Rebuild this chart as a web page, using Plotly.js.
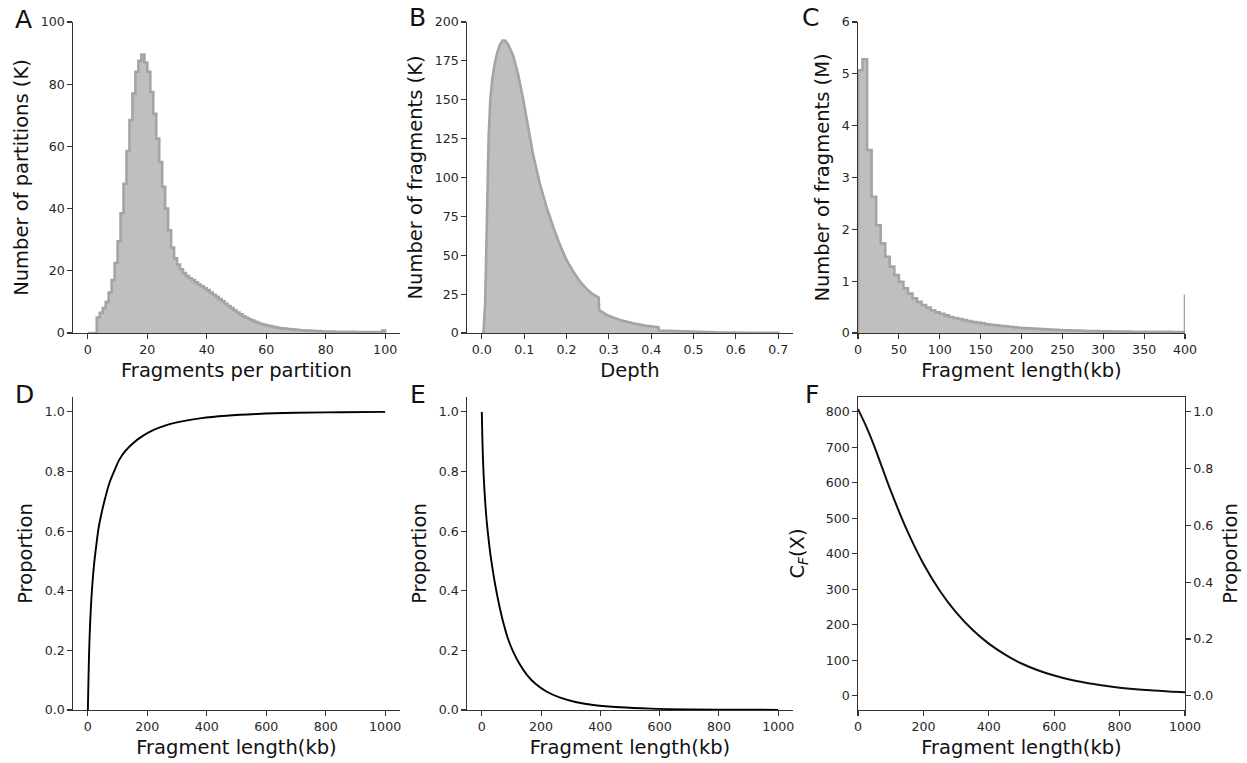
<!DOCTYPE html>
<html><head><meta charset="utf-8">
<script src="https://cdn.plot.ly/plotly-3.0.1.min.js"></script>
<style>html,body{margin:0;padding:0;background:#fff}#chart{width:1247px;height:763px}</style>
</head><body><div id="chart"></div>
<script>
// ---------- Panel A: fragments per partition (bins of width 1 from 0 to 100), counts in K
const partitionBinStart = 0;
const partitionBinWidth = 1;
const partitionCounts = [
  0, 0, 0, 5, 6.5, 8, 10, 13, 17, 22.5,
  29.5, 38.5, 48, 58.5, 68.5, 77, 84, 87.5, 89.5, 87,
  84, 77.5, 70.5, 62.5, 55, 47, 40, 33, 27.5, 24,
  22, 20.5, 19.3, 18.3, 17.6, 17, 16.3, 15.6, 15, 14.4,
  13.8, 13, 12.3, 11.6, 10.9, 10.2, 9.4, 8.7, 8, 7.3,
  6.6, 6, 5.4, 4.9, 4.4, 4, 3.6, 3.2, 2.9, 2.6,
  2.4, 2.2, 2, 1.8, 1.6, 1.5, 1.4, 1.3, 1.2, 1.1,
  1.0, 0.9, 0.85, 0.8, 0.75, 0.7, 0.65, 0.6, 0.55, 0.5,
  0.5, 0.45, 0.45, 0.4, 0.4, 0.4, 0.35, 0.35, 0.35, 0.35,
  0.3, 0.3, 0.3, 0.3, 0.3, 0.3, 0.3, 0.3, 0.3, 0.8
];

// ---------- Panel B: depth histogram outline (fine bins), counts in K
const depthX = [0.0, 0.004, 0.008, 0.0105, 0.013, 0.016, 0.02, 0.025, 0.031, 0.037,
  0.043, 0.049, 0.055, 0.062, 0.074, 0.086, 0.098, 0.11, 0.121, 0.137,
  0.153, 0.169, 0.184, 0.2, 0.216, 0.232, 0.248, 0.263, 0.276, 0.277,
  0.295, 0.326, 0.358, 0.389, 0.417, 0.418, 0.476, 0.555, 0.634, 0.70, 0.70];
const depthCounts = [0, 0, 20, 50, 90, 125, 150, 164, 174, 181,
  185.5, 188, 188, 185.5, 178.5, 166, 150, 131, 115, 96,
  81, 68, 57, 47, 39.5, 33, 28.2, 24.8, 22.8, 14.8,
  11.6, 8.4, 6.2, 4.6, 3.7, 1.6, 0.9, 0.4, 0.2, 0.2, 0];

// ---------- Panel C: fragment length histogram (72 bins over 0-400 kb + overflow bin), counts in M
const lengthBinStart = 0;
const lengthBinWidth = 400 / 72;
const lengthCounts = [
  5.07, 5.28, 3.53, 2.63, 2.08, 1.73, 1.47, 1.28, 1.12, 0.99,
  0.86, 0.76, 0.67, 0.60, 0.54, 0.49, 0.44, 0.40, 0.37, 0.34,
  0.31, 0.29, 0.27, 0.25, 0.23, 0.21, 0.20, 0.185, 0.17, 0.16,
  0.15, 0.14, 0.13, 0.12, 0.11, 0.10, 0.095, 0.09, 0.085, 0.08,
  0.075, 0.07, 0.065, 0.06, 0.057, 0.054, 0.051, 0.048, 0.045, 0.043,
  0.04, 0.038, 0.036, 0.034, 0.032, 0.031, 0.03, 0.029, 0.027, 0.026,
  0.025, 0.025, 0.024, 0.023, 0.023, 0.022, 0.022, 0.021, 0.021, 0.02,
  0.02, 0.02, 0.72
];

// ---------- Panel D: cumulative proportion vs fragment length (kb)
const cdfLength = [0, 2, 5, 10, 15, 21, 28, 36, 46, 58, 72, 88, 106, 127, 152, 182, 218, 262, 316, 382, 465, 570, 700, 850, 1000];
const cdfProportion = [0, 0.10, 0.22, 0.34, 0.42, 0.49, 0.55, 0.61, 0.66, 0.71, 0.76, 0.80, 0.84, 0.87, 0.895, 0.918, 0.938, 0.955, 0.968, 0.979, 0.987, 0.993, 0.997, 0.999, 1.0];

// ---------- Panel E: proportion vs fragment length (kb)
const survLength = [0, 1, 3, 6, 10, 15, 21, 28, 36, 46, 58, 72, 88, 106, 127, 152, 182, 218, 262, 316, 382, 465, 570, 700, 850, 1000];
const survProportion = [1.0, 0.95, 0.87, 0.79, 0.72, 0.65, 0.59, 0.53, 0.475, 0.415, 0.355, 0.295, 0.24, 0.195, 0.155, 0.118, 0.087, 0.062, 0.042, 0.027, 0.016, 0.009, 0.0045, 0.002, 0.001, 0.0005];

// ---------- Panel F: C_F(X) vs fragment length (kb)
const cfLength = [0, 25, 50, 75, 100, 150, 200, 250, 300, 350, 400, 450, 500, 550, 600, 650, 700, 750, 800, 850, 900, 950, 1000];
const cfValue = [808, 759, 703, 640, 578, 466, 372, 296, 235, 186, 147, 116, 91, 72, 57, 45, 36, 29, 23, 18.5, 15, 12, 10];

// ---------- tick labels
const ticksA = [0, 20, 40, 60, 80, 100];
const ticksBx = [0, 0.1, 0.2, 0.3, 0.4, 0.5, 0.6, 0.7];
const ticksBy = [0, 25, 50, 75, 100, 125, 150, 175, 200];
const ticksCx = [0, 50, 100, 150, 200, 250, 300, 350, 400];
const ticksCy = [0, 1, 2, 3, 4, 5, 6];
const ticksLen = [0, 200, 400, 600, 800, 1000];
const ticksProp = [0, 0.2, 0.4, 0.6, 0.8, 1.0];
const ticksCF = [0, 100, 200, 300, 400, 500, 600, 700, 800];

function stepOutline(start, width, counts) {
  const x = [start], y = [0];
  for (let i = 0; i < counts.length; i++) { x.push(start + i * width); y.push(counts[i]); }
  x.push(start + counts.length * width); y.push(0);
  return {x, y};
}

const FILL = '#bfbfbf', EDGE = '#a4a4a4';
const stepA = stepOutline(partitionBinStart, partitionBinWidth, partitionCounts);
const stepC = stepOutline(lengthBinStart, lengthBinWidth, lengthCounts);

const traces = [
  {x: stepA.x, y: stepA.y, xaxis: 'x', yaxis: 'y', type: 'scatter', mode: 'lines',
   line: {shape: 'hv', color: EDGE, width: 2.6}, fill: 'tozeroy', fillcolor: FILL, hoverinfo: 'skip'},
  {x: depthX, y: depthCounts, xaxis: 'x2', yaxis: 'y2', type: 'scatter', mode: 'lines',
   line: {shape: 'linear', color: EDGE, width: 2.6}, fill: 'tozeroy', fillcolor: FILL},
  {x: stepC.x, y: stepC.y, xaxis: 'x3', yaxis: 'y3', type: 'scatter', mode: 'lines',
   line: {shape: 'hv', color: EDGE, width: 2.6}, fill: 'tozeroy', fillcolor: FILL},
  {x: cdfLength, y: cdfProportion, xaxis: 'x4', yaxis: 'y4', type: 'scatter', mode: 'lines',
   line: {shape: 'spline', smoothing: 1, color: '#000', width: 1.9}},
  {x: survLength, y: survProportion, xaxis: 'x5', yaxis: 'y5', type: 'scatter', mode: 'lines',
   line: {shape: 'spline', smoothing: 1, color: '#000', width: 1.9}},
  {x: cfLength, y: cfValue, xaxis: 'x6', yaxis: 'y6', type: 'scatter', mode: 'lines',
   line: {shape: 'spline', smoothing: 1, color: '#0b0f14', width: 2}},
  {x: [0], y: [0], xaxis: 'x6', yaxis: 'y7', type: 'scatter', mode: 'markers',
   marker: {opacity: 0}, hoverinfo: 'skip'}
];

const FONT = 'DejaVu Sans, sans-serif';
const TICKFONT = {family: FONT, size: 12.6, color: '#262626'};
const TITLEFONT = {family: FONT, size: 19.5, color: '#111'};

function ax(domain, range, tickvals, title, anchor, extra, standoff) {
  return Object.assign({
    domain, range, tickvals, anchor, autorange: false,
    showgrid: false, zeroline: false, showline: true, linecolor: '#333', linewidth: 1.2,
    ticks: 'outside', ticklen: 4.5, tickwidth: 1.1, tickcolor: '#333',
    tickfont: TICKFONT, title: {text: title, font: TITLEFONT, standoff: standoff == null ? 7 : standoff},
    fixedrange: true
  }, extra || {});
}

const c1 = [73/1247, 400/1247], c2 = [467/1247, 793/1247], c3 = [858/1247, 1185/1247];
const r1 = [1 - 333/763, 1 - 22/763], r2 = [1 - 710/763, 1 - 397/763];

const layout = {
  width: 1247, height: 763, margin: {l: 0, r: 0, t: 0, b: 0},
  paper_bgcolor: '#fff', plot_bgcolor: '#fff', showlegend: false,
  font: {family: FONT},
  xaxis: ax(c1, [-5, 105], ticksA, 'Fragments per partition', 'y'),
  yaxis: ax(r1, [0, 100], ticksA, 'Number of partitions (K)', 'x'),
  xaxis2: ax(c2, [-0.035, 0.735], ticksBx, 'Depth', 'y2', {tickformat: '.1f'}),
  yaxis2: ax(r1, [0, 200], ticksBy, 'Number of fragments (K)', 'x2'),
  xaxis3: ax(c3, [0, 400], ticksCx, 'Fragment length(kb)', 'y3'),
  yaxis3: ax(r1, [0, 6], ticksCy, 'Number of fragments (M)', 'x3'),
  xaxis4: ax(c1, [-50, 1050], ticksLen, 'Fragment length(kb)', 'y4'),
  yaxis4: ax(r2, [0, 1.05], ticksProp, 'Proportion', 'x4', {tickformat: '.1f'}),
  xaxis5: ax(c2, [-50, 1050], ticksLen, 'Fragment length(kb)', 'y5'),
  yaxis5: ax(r2, [0, 1.05], ticksProp, 'Proportion', 'x5', {tickformat: '.1f'}),
  xaxis6: ax(c3, [0, 1000], ticksLen, 'Fragment length(kb)', 'y6', {mirror: true}),
  yaxis6: ax(r2, [-40, 842], ticksCF, 'C<sub><i>F</i></sub>(X)', 'x6', null, 16),
  yaxis7: ax(r2, [-0.05, 1.0525], ticksProp, 'Proportion', 'x6',
             {overlaying: 'y6', side: 'right', tickformat: '.1f'}, 11),
  annotations: [
    ['A', 13, 19], ['B', 407, 18], ['C', 800, 18],
    ['D', 13, 394], ['E', 408, 394], ['F', 803, 394]
  ].map(([t, px, py]) => ({
    text: t, xref: 'paper', yref: 'paper', x: px / 1247, y: 1 - py / 763,
    xanchor: 'left', yanchor: 'middle', showarrow: false,
    font: {family: FONT, size: 25, color: '#111'}
  }))
};

Plotly.newPlot('chart', traces, layout, {staticPlot: true, displayModeBar: false});
</script>
</body></html>
